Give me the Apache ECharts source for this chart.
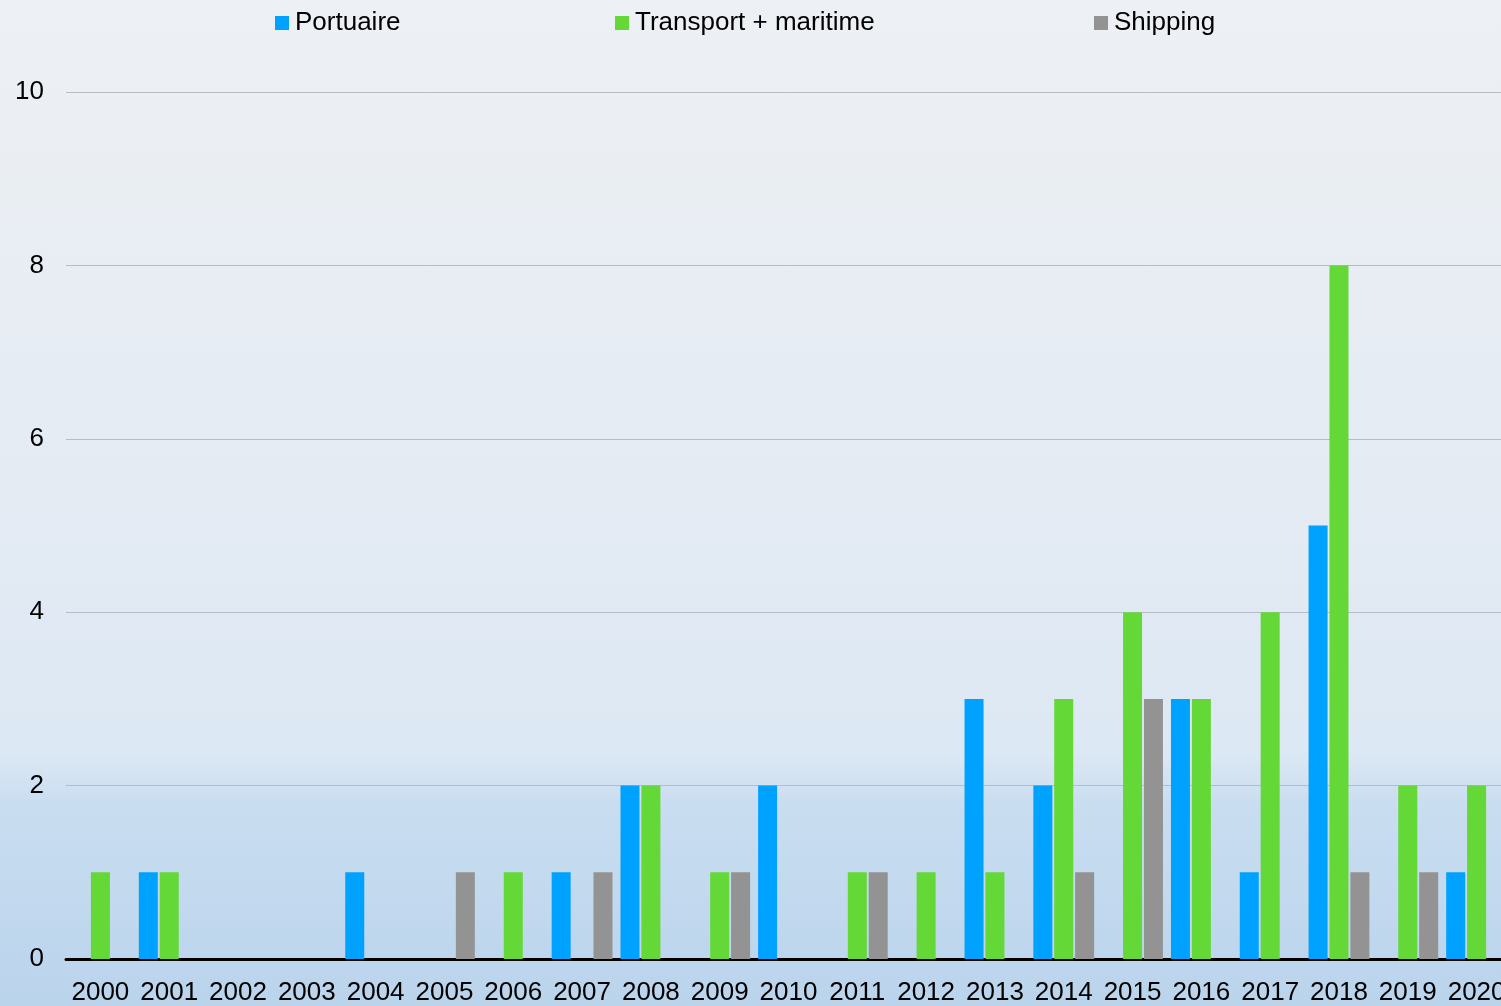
<!DOCTYPE html>
<html>
<head>
    <meta charset="UTF-8">
    <title>Portuaire / Transport + maritime / Shipping</title>
    <script src="https://cdn.jsdelivr.net/npm/echarts@6/dist/echarts.min.js"></script>
    <style>
      html, body { margin: 0; padding: 0; overflow: hidden; width: 1501px; height: 1006px; }
      /* the original chart is cut on the right edge, so the canvas is a bit wider than the window */
      #chart { width: 1511px; height: 1006px; }
    </style>
</head>
<body>
<div id="chart"></div>
<script>
    // annees
    var years = ['2000', '2001', '2002', '2003', '2004', '2005', '2006', '2007', '2008', '2009', '2010',
                 '2011', '2012', '2013', '2014', '2015', '2016', '2017', '2018', '2019', '2020'];
    var portuaire = [0, 1, 0, 0, 1, 0, 0, 1, 2, 0, 2, 0, 0, 3, 2, 0, 3, 1, 5, 0, 1];
    var transport = [1, 1, 0, 0, 0, 0, 1, 0, 2, 1, 0, 1, 1, 1, 3, 4, 3, 4, 8, 2, 2];
    var shipping  = [0, 0, 0, 0, 0, 1, 0, 1, 0, 1, 0, 1, 0, 0, 1, 3, 0, 0, 1, 1, 0];
    var yTicks = [0, 2, 4, 6, 8, 10];

    var font = 'Liberation Sans, Arial, sans-serif';
    var myChart = echarts.init(document.getElementById('chart'));

    function legendAt(name, left) {
        return {
            left: left,
            top: 10,
            padding: 0,
            data: [name],
            icon: 'rect',
            itemWidth: 14,
            itemHeight: 14,
            itemGap: 0,
            selectedMode: false,
            textStyle: { color: '#000', fontSize: 26, fontFamily: font, padding: [0, 0, 0, 1] }
        };
    }

    function bar(name, data, color) {
        return {
            name: name,
            type: 'bar',
            data: data,
            barWidth: 19,
            barGap: '10%',
            itemStyle: { color: color },
            emphasis: { disabled: true }
        };
    }

    var option = {
        backgroundColor: {
            type: 'linear', x: 0, y: 0, x2: 0, y2: 1,
            colorStops: [
                { offset: 0, color: '#edf0f4' },
                { offset: 0.5, color: '#e4ebf3' },
                { offset: 0.75, color: '#dce8f4' },
                { offset: 0.8, color: '#c9ddf0' },
                { offset: 1, color: '#bad4ec' }
            ]
        },
        animation: false,
        legend: [
            legendAt('Portuaire', 275),
            legendAt('Transport + maritime', 615),
            legendAt('Shipping', 1094)
        ],
        grid: { left: 66, right: 0, top: 92, bottom: 44, containLabel: false },
        xAxis: {
            type: 'category',
            data: years,
            axisTick: { show: false },
            axisLine: { lineStyle: { color: '#000', width: 3 } },
            axisLabel: { color: '#000', fontSize: 26, fontFamily: font, margin: 21, interval: 0 }
        },
        yAxis: {
            type: 'value',
            min: yTicks[0],
            max: yTicks[yTicks.length - 1],
            interval: 2,
            axisLine: { show: false },
            axisTick: { show: false },
            splitLine: { lineStyle: { color: '#b5bcc5', width: 1 } },
            axisLabel: { color: '#000', fontSize: 26, fontFamily: font, margin: 22 }
        },
        series: [
            bar('Portuaire', portuaire, '#00a2ff'),
            bar('Transport + maritime', transport, '#63d836'),
            bar('Shipping', shipping, '#939393')
        ]
    };
    myChart.setOption(option);
</script>
</body>
</html>
